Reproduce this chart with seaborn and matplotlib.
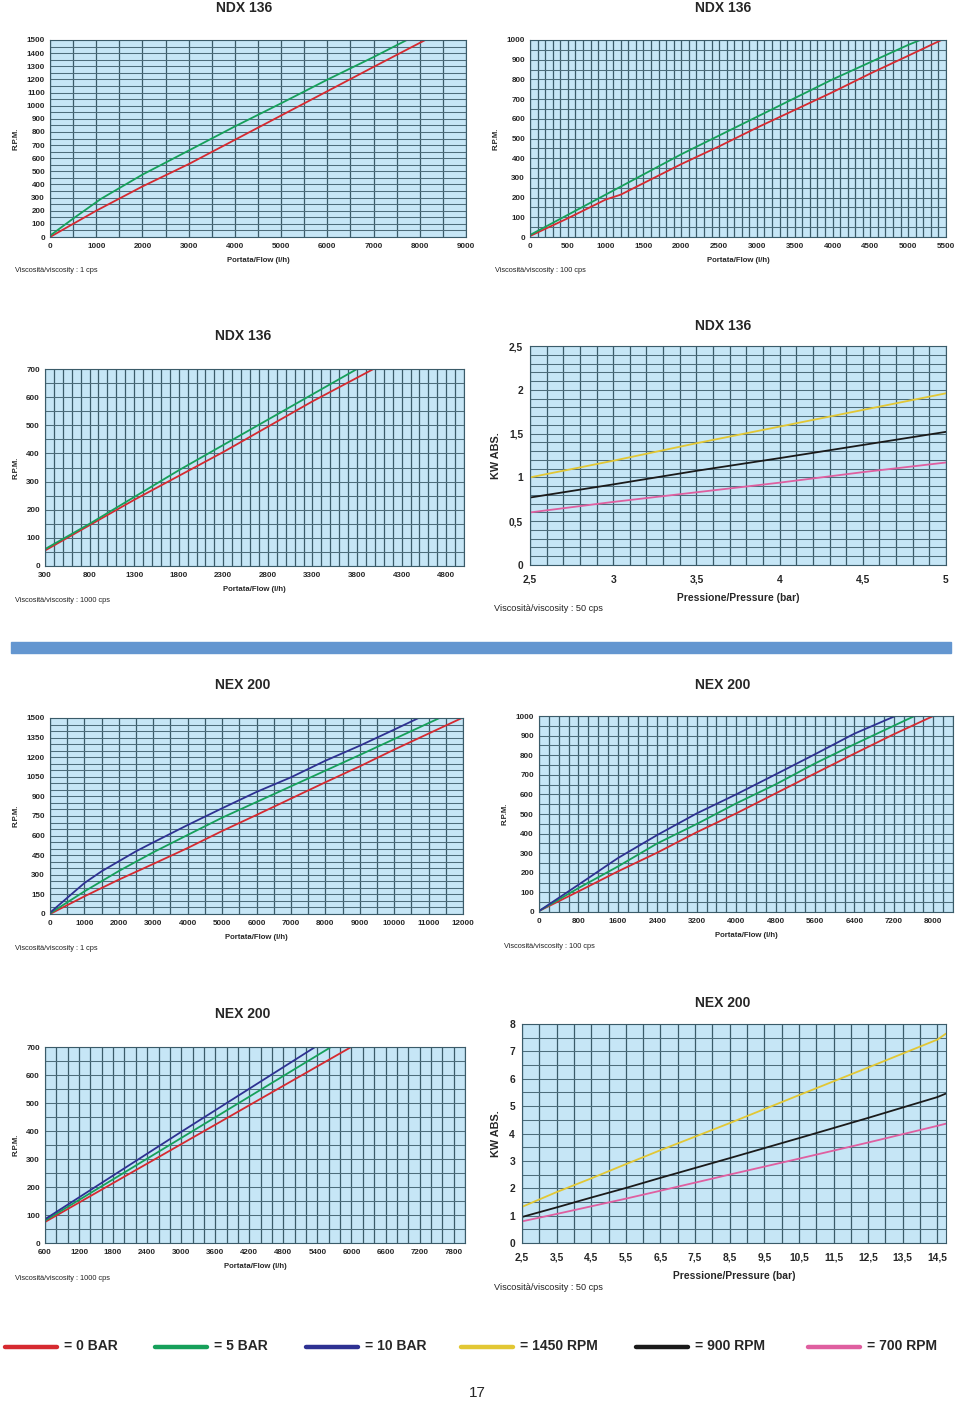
import matplotlib
matplotlib.use("Agg")
import matplotlib.pyplot as plt
import seaborn as sns
from matplotlib.ticker import MultipleLocator, FuncFormatter
from matplotlib.lines import Line2D

# ---- colours of the series ----
RED = "#d62a30"
GREEN = "#16a05a"
NAVY = "#2e3192"
YELLOW = "#e2c734"
BLACK = "#1a1a1a"
PINK = "#df5fa0"

# ---- NDX 136, 1 cps ----
ndx1_red_x = [0, 1000, 2000, 3000, 4000, 5000, 6000, 7000, 8120]
ndx1_red_y = [0, 200, 385, 555, 740, 925, 1110, 1295, 1500]
ndx1_green_x = [0, 500, 1100, 2000, 3000, 4000, 5000, 6000, 7000, 7720]
ndx1_green_y = [10, 140, 290, 475, 658, 842, 1018, 1198, 1370, 1500]

# ---- NDX 136, 100 cps ----
ndx100_red_x = [0, 500, 1000, 1200, 2000, 2500, 3000, 3500, 4000, 4500, 5000, 5440]
ndx100_red_y = [5, 95, 190, 215, 370, 460, 555, 645, 735, 830, 920, 1000]
ndx100_green_x = [0, 1000, 2000, 3000, 4000, 5000, 5160]
ndx100_green_y = [10, 215, 420, 610, 800, 975, 1000]

# ---- NDX 136, 1000 cps ----
ndx1000_red_x = [300, 800, 1300, 1800, 2300, 2800, 3300, 3985]
ndx1000_red_y = [55, 145, 235, 320, 405, 495, 585, 700]
ndx1000_green_x = [300, 800, 1300, 1800, 2300, 2800, 3300, 3800]
ndx1000_green_y = [60, 150, 245, 340, 430, 520, 610, 700]

# ---- NDX 136, power ----
ndx_kw_x = [2.5, 3, 3.5, 4, 4.5, 5]
ndx_kw_1450 = [1.00, 1.19, 1.39, 1.58, 1.77, 1.96]
ndx_kw_900 = [0.77, 0.92, 1.075, 1.22, 1.37, 1.52]
ndx_kw_700 = [0.60, 0.72, 0.83, 0.94, 1.06, 1.17]

# ---- NEX 200, 1 cps ----
nex1_red_x = [0, 1000, 2000, 3000, 4000, 5000, 6000, 7000, 8000, 9000, 10000, 11970]
nex1_red_y = [0, 135, 263, 383, 505, 635, 758, 883, 1008, 1130, 1258, 1500]
nex1_green_x = [0, 1000, 2000, 3000, 4000, 5000, 6000, 7000, 8000, 9000, 10000, 11320]
nex1_green_y = [5, 173, 329, 472, 605, 737, 857, 977, 1097, 1217, 1339, 1500]
nex1_navy_x = [0, 1000, 1500, 2500, 3000, 4000, 5000, 6000, 7000, 8000, 9000, 10000, 10710]
nex1_navy_y = [10, 237, 327, 480, 548, 681, 809, 934, 1046, 1173, 1288, 1411, 1500]

# ---- NEX 200, 100 cps ----
nex100_red_x = [0, 800, 1600, 2400, 3200, 4000, 4800, 5600, 6400, 7200, 8000]
nex100_red_y = [5, 105, 207, 303, 407, 503, 605, 707, 808, 907, 1000]
nex100_green_x = [0, 800, 1600, 2400, 3200, 4000, 4800, 5600, 6400, 7620]
nex100_green_y = [5, 122, 232, 350, 449, 554, 651, 758, 856, 1000]
nex100_navy_x = [0, 800, 1600, 2400, 3200, 4000, 4800, 5600, 6400, 7230]
nex100_navy_y = [5, 139, 275, 393, 503, 600, 702, 805, 910, 1000]

# ---- NEX 200, 1000 cps ----
nex1000_red_x = [600, 3000, 5995]
nex1000_red_y = [75, 353, 700]
nex1000_green_x = [600, 3000, 5640]
nex1000_green_y = [80, 375, 700]
nex1000_navy_x = [600, 3000, 5360]
nex1000_navy_y = [85, 397, 700]

# ---- NEX 200, power ----
nex_kw_x = [2.5, 3.5, 4.5, 5.5, 6.5, 8.5, 10.5, 12.5, 14.5, 14.75]
nex_kw_1450 = [1.32, 1.86, 2.36, 2.88, 3.39, 4.38, 5.40, 6.41, 7.43, 7.65]
nex_kw_900 = [0.95, 1.30, 1.66, 2.01, 2.38, 3.10, 3.83, 4.57, 5.33, 5.46]
nex_kw_700 = [0.79, 1.06, 1.34, 1.62, 1.91, 2.50, 3.08, 3.67, 4.28, 4.36]

legend_labels = ["= 0 BAR", "= 5 BAR", "= 10 BAR", "= 1450 RPM", "= 900 RPM", "= 700 RPM"]
legend_colors = [RED, GREEN, NAVY, YELLOW, BLACK, PINK]

sns.set_theme(style="white")
plt.rcParams["font.family"] = ["Liberation Sans", "DejaVu Sans"]

W, H = 960, 1401
fig = plt.figure(figsize=(W / 100, H / 100), dpi=100)
fig.patch.set_facecolor("white")

BG = "#c6e6f6"
GRID = "#3a5b69"


def px_axes(x0, y0, x1, y1):
    return fig.add_axes([x0 / W, 1 - y1 / H, (x1 - x0) / W, (y1 - y0) / H])


def bold_ticks(ax):
    for lab in ax.get_xticklabels() + ax.get_yticklabels():
        lab.set_fontweight("bold")


def style_axes(ax, xlim, ylim, xmaj, xmin, ymaj, ymin, big=False, comma=False):
    ax.set_facecolor(BG)
    ax.set_xlim(*xlim)
    ax.set_ylim(*ylim)
    ax.xaxis.set_major_locator(MultipleLocator(xmaj))
    ax.xaxis.set_minor_locator(MultipleLocator(xmin))
    ax.yaxis.set_major_locator(MultipleLocator(ymaj))
    ax.yaxis.set_minor_locator(MultipleLocator(ymin))
    ax.grid(True, which="both", axis="x", color=GRID, lw=0.9)
    ax.grid(True, which="both", axis="y", color="#4d6d7b", lw=0.75)
    ax.set_axisbelow(True)
    for s in ax.spines.values():
        s.set_color(GRID)
        s.set_linewidth(0.8)
    fs = 7.4 if big else 5.8
    ax.tick_params(which="both", length=0, labelsize=fs)
    ax.tick_params(axis="x", pad=7 if big else 4.5)
    ax.tick_params(axis="y", pad=5 if big else 3.6)
    if comma:
        fmt = FuncFormatter(lambda v, p: (f"{v:g}").replace(".", ","))
    else:
        fmt = FuncFormatter(lambda v, p: f"{v:.0f}")
    ax.xaxis.set_major_formatter(fmt)
    ax.yaxis.set_major_formatter(fmt)
    bold_ticks(ax)


def draw(ax, series):
    for xs, ys, c in series:
        sns.lineplot(x=xs, y=ys, ax=ax, color=c, lw=1.3, sort=False)
    ax.set_xlabel("")
    ax.set_ylabel("")


def labels(ax, xl, yl, big=False):
    if big:
        ax.set_xlabel(xl, fontsize=7.4, fontweight="bold", labelpad=6)
        ax.set_ylabel(yl, fontsize=7.8, fontweight="bold", labelpad=6)
    else:
        ax.set_xlabel(xl, fontsize=5.6, fontweight="bold", labelpad=5)
        ax.set_ylabel(yl, fontsize=5.6, fontweight="bold", labelpad=5)


def title(x, y, txt):
    fig.text(x / W, 1 - y / H, txt, ha="center", va="center", fontsize=10, fontweight="bold")


def note(x, y, txt, fs=5.3):
    fig.text(x / W, 1 - y / H, txt, ha="left", va="center", fontsize=fs, color="#222222")


# Panel 1
ax = px_axes(50, 40, 466, 237)
draw(ax, [(ndx1_red_x, ndx1_red_y, RED), (ndx1_green_x, ndx1_green_y, GREEN)])
style_axes(ax, (0, 9000), (0, 1500), 1000, 500, 100, 50)
labels(ax, "Portata/Flow (l/h)", "R.P.M.")
title(244, 8, "NDX 136")
note(15, 271, "Viscosità/viscosity : 1 cps")

# Panel 2
ax = px_axes(530, 40, 946, 237)
draw(ax, [(ndx100_red_x, ndx100_red_y, RED), (ndx100_green_x, ndx100_green_y, GREEN)])
style_axes(ax, (0, 5500), (0, 1000), 500, 100, 100, 50)
labels(ax, "Portata/Flow (l/h)", "R.P.M.")
title(723, 8, "NDX 136")
note(495, 271, "Viscosità/viscosity : 100 cps")

# Panel 3
ax = px_axes(45, 369, 464, 566)
draw(ax, [(ndx1000_red_x, ndx1000_red_y, RED), (ndx1000_green_x, ndx1000_green_y, GREEN)])
style_axes(ax, (300, 5000), (0, 700), 500, 100, 100, 50)
ax.set_xticks(list(range(300, 5000, 500)))
ax.set_xticks(list(range(300, 5001, 100)), minor=True)
bold_ticks(ax)
labels(ax, "Portata/Flow (l/h)", "R.P.M.")
title(243, 336, "NDX 136")
note(15, 600, "Viscosità/viscosity : 1000 cps")

# Panel 4
ax = px_axes(530, 346, 946, 565)
draw(ax, [(ndx_kw_x, ndx_kw_1450, YELLOW), (ndx_kw_x, ndx_kw_900, BLACK), (ndx_kw_x, ndx_kw_700, PINK)])
style_axes(ax, (2.5, 5), (0, 2.5), 0.5, 0.1, 0.5, 0.1, big=True, comma=True)
labels(ax, "Pressione/Pressure (bar)", "KW ABS.", big=True)
title(723, 326, "NDX 136")
note(494, 609, "Viscosità/viscosity : 50 cps", fs=6.6)

# separator bar
fig.patches.append(plt.Rectangle((11 / W, 1 - 653 / H), 940 / W, 11 / H,
                                 transform=fig.transFigure, color="#6396d0", zorder=0))

# Panel 5
ax = px_axes(50, 718, 463, 914)
draw(ax, [(nex1_red_x, nex1_red_y, RED), (nex1_green_x, nex1_green_y, GREEN),
          (nex1_navy_x, nex1_navy_y, NAVY)])
style_axes(ax, (0, 12000), (0, 1500), 1000, 500, 150, 50)
labels(ax, "Portata/Flow (l/h)", "R.P.M.")
title(243, 685, "NEX 200")
note(15, 949, "Viscosità/viscosity : 1 cps")

# Panel 6
ax = px_axes(539, 716, 953, 912)
draw(ax, [(nex100_red_x, nex100_red_y, RED), (nex100_green_x, nex100_green_y, GREEN),
          (nex100_navy_x, nex100_navy_y, NAVY)])
style_axes(ax, (0, 8400), (0, 1000), 800, 200, 100, 50)
ax.set_xticks(list(range(0, 8001, 800)))
bold_ticks(ax)
labels(ax, "Portata/Flow (l/h)", "R.P.M.")
title(723, 685, "NEX 200")
note(504, 947, "Viscosità/viscosity : 100 cps")

# Panel 7
ax = px_axes(45, 1047, 465, 1243)
draw(ax, [(nex1000_red_x, nex1000_red_y, RED), (nex1000_green_x, nex1000_green_y, GREEN),
          (nex1000_navy_x, nex1000_navy_y, NAVY)])
style_axes(ax, (600, 8000), (0, 700), 600, 200, 100, 50)
ax.set_xticks(list(range(600, 7801, 600)))
ax.set_xticks(list(range(600, 8001, 200)), minor=True)
bold_ticks(ax)
labels(ax, "Portata/Flow (l/h)", "R.P.M.")
title(243, 1014, "NEX 200")
note(15, 1278, "Viscosità/viscosity : 1000 cps")

# Panel 8
ax = px_axes(522, 1024, 946, 1243)
draw(ax, [(nex_kw_x, nex_kw_1450, YELLOW), (nex_kw_x, nex_kw_900, BLACK), (nex_kw_x, nex_kw_700, PINK)])
style_axes(ax, (2.5, 14.75), (0, 8), 1, 0.5, 1, 0.5, big=True, comma=True)
ax.set_xticks([2.5 + i for i in range(13)])
bold_ticks(ax)
labels(ax, "Pressione/Pressure (bar)", "KW ABS.", big=True)
title(723, 1003, "NEX 200")
note(494, 1288, "Viscosità/viscosity : 50 cps", fs=6.6)

# legend row
leg_x = [5, 155, 306, 461, 636, 808]
for x0, lab, col in zip(leg_x, legend_labels, legend_colors):
    fig.add_artist(Line2D([x0 / W, (x0 + 52) / W], [1 - 1347 / H] * 2, color=col, lw=3.2,
                          transform=fig.transFigure))
    fig.text((x0 + 59) / W, 1 - 1346 / H, lab, ha="left", va="center", fontsize=10,
             fontweight="bold", family=["Liberation Sans Narrow", "Liberation Sans", "DejaVu Sans"])

fig.text(477 / W, 1 - 1393 / H, "17", ha="center", va="center", fontsize=11,
         family=["Liberation Sans Narrow", "Liberation Sans", "DejaVu Sans"])

fig.savefig("out.png", dpi=100)
plt.close(fig)
